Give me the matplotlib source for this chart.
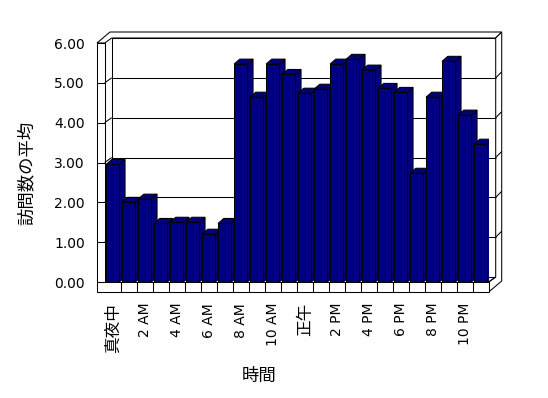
import matplotlib
matplotlib.use("Agg")
import matplotlib.pyplot as plt
from matplotlib.patches import Polygon, Rectangle

plt.rcParams['font.family'] = ['DejaVu Sans', 'Noto Sans CJK JP']

hours = list(range(24))
values = [2.95, 2.00, 2.08, 1.47, 1.50, 1.50, 1.20, 1.47,
          5.47, 4.64, 5.47, 5.21, 4.74, 4.84, 5.47, 5.59,
          5.32, 4.86, 4.76, 2.73, 4.64, 5.54, 4.19, 3.46]
tick_labels = ['真夜中', '2 AM', '4 AM', '6 AM', '8 AM', '10 AM',
               '正午', '2 PM', '4 PM', '6 PM', '8 PM', '10 PM']
y_ticks = [0, 1, 2, 3, 4, 5, 6]
x_title = '時間'
y_title = '訪問数の平均'

W, H = 548, 398
fig = plt.figure(figsize=(W / 100, H / 100), dpi=100)
fig.patch.set_facecolor('white')

# front plane of the 3D box
L, R, T, B = 104.7, 488.7, 43.0, 282.0
ax = fig.add_axes([L / W, (H - B) / H, (R - L) / W, (B - T) / H])
ax.set_xlim(0, 24)
ax.set_ylim(0, 6)
ax.set_facecolor('none')
for s in ax.spines.values():
    s.set_visible(False)

px_x = 24 / (R - L)      # data units per pixel (x)
px_y = 6 / (B - T)       # data units per pixel (y)

# depth offsets
wdx, wdy = 7 * px_x, 5 * px_y        # wall depth
tdx, tdy = 6 * px_x, 6 * px_y        # back wall thickness
bdx, bdy = 5.7 * px_x, 5 * px_y      # bar depth
lw_front = 7.7 * px_x                # left wall front thickness
fl = 10 * px_y                       # floor thickness

lw = 0.75
kw = dict(color='black', lw=lw, clip_on=False, zorder=1, solid_capstyle='butt')

# back wall inner face
ax.add_patch(Polygon([(wdx, wdy), (24 + wdx, wdy), (24 + wdx, 6 + wdy), (wdx, 6 + wdy)],
                     closed=True, facecolor='white', edgecolor='black', lw=lw,
                     clip_on=False, zorder=0.5))
# top face of walls
ax.add_patch(Polygon([(-lw_front, 6), (0, 6), (wdx, 6 + wdy), (24 + wdx, 6 + wdy),
                      (24 + wdx + tdx, 6 + wdy + tdy), (-lw_front + wdx + tdx, 6 + wdy + tdy)],
                     closed=True, facecolor='white', edgecolor='black', lw=lw,
                     clip_on=False, zorder=0.6))
# right end face of back wall
ax.add_patch(Polygon([(24 + wdx, 6 + wdy), (24 + wdx + tdx, 6 + wdy + tdy),
                      (24 + wdx + tdx, wdy + tdy - fl), (24, -fl), (24, 0), (24 + wdx, wdy)],
                     closed=True, facecolor='white', edgecolor='black', lw=lw,
                     clip_on=False, zorder=0.6))
# left wall front face
ax.add_patch(Rectangle((-lw_front, 0), lw_front, 6, facecolor='white',
                       edgecolor='black', lw=lw, clip_on=False, zorder=0.7))
# floor front face
ax.add_patch(Rectangle((-lw_front, -fl), 24 + lw_front, fl, facecolor='white',
                       edgecolor='black', lw=lw, clip_on=False, zorder=5))
for k in range(1, 24):
    ax.plot([k, k], [-fl, 0], color='black', lw=lw, clip_on=False, zorder=5)
ax.plot([24, 24 + wdx], [0, wdy], **kw)

# gridlines
for v in y_ticks[1:-1]:
    ax.plot([-lw_front, 0], [v, v], **kw)
    ax.plot([0, wdx], [v, v + wdy], **kw)
    ax.plot([wdx, 24 + wdx], [v + wdy, v + wdy], **kw)
    ax.plot([24 + wdx, 24 + wdx + tdx], [v + wdy, v + wdy + tdy], **kw)

# bars
navy = '#000080'
width = 0.83
xs = [h + 0.5 for h in hours]
bars = ax.bar(xs, values, width=width, color=navy, edgecolor='black', linewidth=lw)
for i, (rect, x, v) in enumerate(zip(bars, xs, values)):
    z = 2 + i * 0.01
    rect.set_zorder(z + 0.005)
    x0, x1 = x - width / 2, x + width / 2
    top = Polygon([(x0, v), (x1, v), (x1 + bdx, v + bdy), (x0 + bdx, v + bdy)],
                  closed=True, facecolor=navy, edgecolor='black', lw=lw, zorder=z)
    side = Polygon([(x1, 0), (x1, v), (x1 + bdx, v + bdy), (x1 + bdx, bdy)],
                   closed=True, facecolor=navy, edgecolor='black', lw=lw, zorder=z)
    ax.add_patch(side)
    ax.add_patch(top)

# ticks
ax.set_yticks(y_ticks)
ax.set_yticklabels([f'{v:.2f}' for v in y_ticks])
ax.tick_params(axis='y', length=0, pad=14.2, labelsize=10)
ax.set_xticks(xs[::2])
ax.set_xticklabels(tick_labels, rotation=90, va='top', ha='center')
ax.tick_params(axis='x', length=0, pad=15, labelsize=10)
for t in ax.get_xticklabels():
    if any(ord(c) > 0x3000 for c in t.get_text()):
        t.set_fontsize(12)

fig.text(259 / W, 1 - 376 / H, x_title, fontsize=12.5, ha='center', va='center')
fig.text(27 / W, 1 - 173 / H, y_title, fontsize=12.5, ha='center', va='center',
         rotation=90)

fig.savefig('out.png', dpi=100, facecolor='white')
